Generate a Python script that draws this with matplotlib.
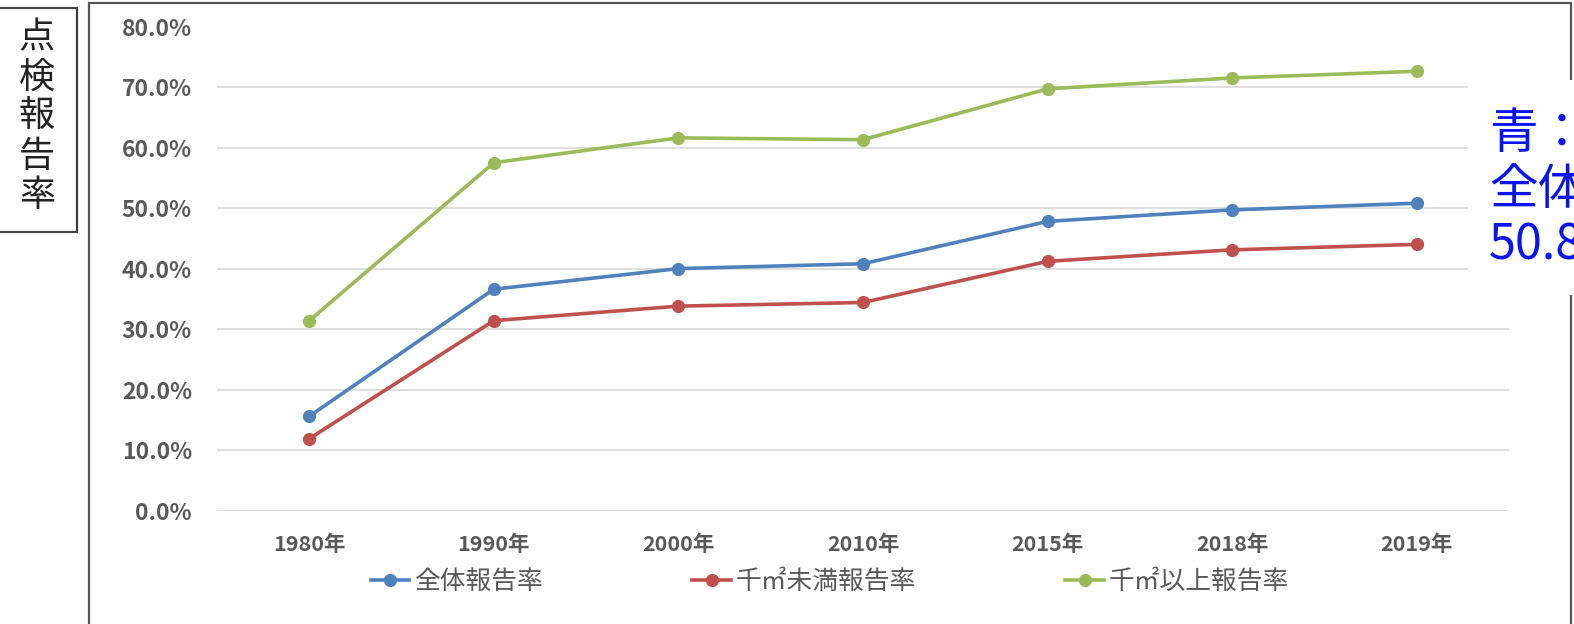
import matplotlib.pyplot as plt
from matplotlib.patches import Rectangle
from matplotlib.lines import Line2D
from matplotlib.ticker import PercentFormatter

plt.rcParams['font.family'] = ['Noto Sans CJK JP', 'DejaVu Sans']

years = ['1980年', '1990年', '2000年', '2010年', '2015年', '2018年', '2019年']
total_rate = [15.6, 36.6, 40.0, 40.8, 47.8, 49.7, 50.8]
small_rate = [11.9, 31.4, 33.8, 34.4, 41.2, 43.1, 44.0]
large_rate = [31.4, 57.5, 61.6, 61.3, 69.7, 71.5, 72.6]
series_names = ['全体報告率', '千㎡未満報告率', '千㎡以上報告率']
series_colors = ['#4F81BD', '#C0504D', '#9BBB59']

W, H = 1574, 624
fig = plt.figure(figsize=(W / 100, H / 100), dpi=100)

def px(x, y):
    # pixel position (from top-left) -> figure fraction
    return x / W, 1 - y / H

ax = fig.add_axes([217 / W, 1 - 510.7 / H, (1509 - 217) / W, (510.7 - 26.5) / H])
xs = range(len(years))
for vals, name, col in zip([total_rate, small_rate, large_rate], series_names, series_colors):
    ax.plot(xs, vals, color=col, lw=2.6, marker='o', ms=8.5, label=name, zorder=3)

ax.set_xlim(-0.5, len(years) - 0.5)
ax.set_ylim(0, 80)
ax.set_yticks(range(0, 81, 10))
ax.yaxis.set_major_formatter(PercentFormatter(decimals=1))
ax.set_xticks(list(xs))
ax.set_xticklabels(years)
ax.grid(axis='y', color='#D9D9D9', lw=1.2)
ax.set_axisbelow(True)
for s in ax.spines.values():
    s.set_visible(False)
ax.tick_params(axis='y', length=0, pad=18, labelsize=16.5, labelcolor='#595959')
ax.tick_params(axis='x', length=0, pad=17, labelsize=15.5, labelcolor='#595959')
for lbl in ax.get_yticklabels() + ax.get_xticklabels():
    lbl.set_fontweight('bold')

handles = [Line2D([], [], color=c, lw=2.6, marker='o', ms=8.5) for c in series_colors]
fig.legend(handles, series_names, loc='center', bbox_to_anchor=px(830, 582), ncol=3,
           frameon=False, fontsize=18.5, labelcolor='#595959', handlelength=1.5,
           handletextpad=0.2, columnspacing=5.8)

# outer chart border
fig.patches.append(Rectangle(px(89, 640), 1482 / W, 637 / H, transform=fig.transFigure,
                             fill=False, ec='#555555', lw=1.6))

# axis title box on the left
fig.patches.append(Rectangle(px(-5, 232), 82 / W, 224 / H, transform=fig.transFigure,
                             fill=False, ec='#404040', lw=1.6))
for i, ch in enumerate('点検報告率'):
    fig.text(*px(37, 38 + 39.5 * i), ch, ha='center', va='center', fontsize=26,
             color='#222222')

# note on the right
fig.patches.append(Rectangle(px(1468, 295), 120 / W, 215 / H, transform=fig.transFigure,
                             fc='white', ec='none', zorder=5))
fig.text(*px(1489, 110), '青：\n全体報告率\n50.8%', ha='left', va='top', fontsize=35,
         color='#0A14F0', linespacing=1.15, zorder=6)

fig.savefig('out.png', dpi=100, facecolor='white')
